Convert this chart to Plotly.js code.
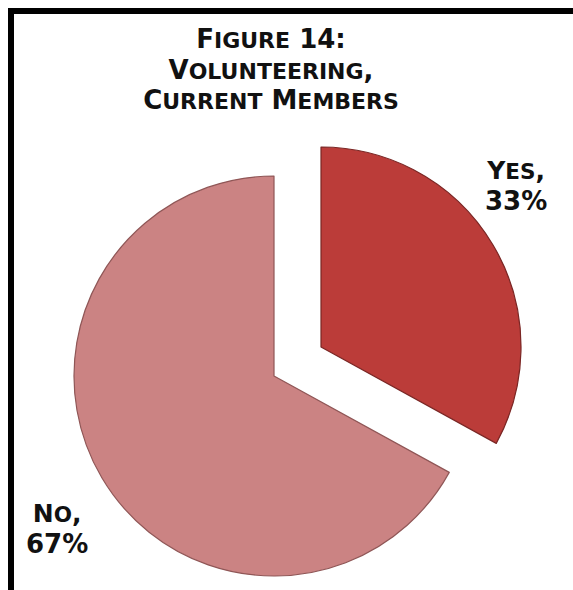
<!DOCTYPE html>
<html>
<head>
<meta charset="utf-8">
<script src="https://cdn.plot.ly/plotly-3.0.1.min.js"></script>
<style>
  html, body { margin: 0; padding: 0; background: #ffffff; overflow: hidden; }
  #chart { width: 573px; height: 590px; }
</style>
</head>
<body>
<div id="chart"></div>
<script>
// ---- data ----
const titleLines = ['Figure 14:', 'Volunteering,', 'Current Members'];
const labels = ['Yes', 'No'];
const values = [33, 67];
const sliceColors = ['#bb3c39', '#cb8383'];
const edgeColors = ['#7a2624', '#8f5656'];

const W = 573, H = 590;
const px = (x) => x / W;
const py = (y) => 1 - y / H;
const clear = 'rgba(0,0,0,0)';

// render text as small caps: capitals/digits at `big` px, lowercase letters as capitals at `small` px
function smallCaps(str, big, small) {
  let out = '', run = '', runSmall = null;
  const flush = () => {
    if (run) out += '<span style="font-size:' + (runSmall ? small : big) + 'px">' + run + '</span>';
    run = '';
  };
  for (const ch of str) {
    const isSmall = ch !== ch.toUpperCase();
    if (runSmall !== null && isSmall !== runSmall) flush();
    runSmall = isSmall;
    run += isSmall ? ch.toUpperCase() : ch;
  }
  flush();
  return out;
}

// pie for the "No" slice (unpulled), centre (274,376), r=200
const pieNo = {
  type: 'pie', labels: labels, values: values, sort: false,
  direction: 'clockwise', rotation: 0,
  textinfo: 'none', hoverinfo: 'label+percent',
  marker: {
    colors: [clear, sliceColors[1]],
    line: { color: [clear, edgeColors[1]], width: 1.2 }
  },
  domain: { x: [px(74), px(474)], y: [py(576), py(176)] },
  showlegend: false
};
// pie for the exploded "Yes" slice, centre (321,347), r=200
const pieYes = {
  type: 'pie', labels: labels, values: values, sort: false,
  direction: 'clockwise', rotation: 0,
  textinfo: 'none', hoverinfo: 'label+percent',
  marker: {
    colors: [sliceColors[0], clear],
    line: { color: [edgeColors[0], clear], width: 1.2 }
  },
  domain: { x: [px(121), px(521)], y: [py(547), py(147)] },
  showlegend: false
};

const FONT = 'DejaVu Sans';
const labelFont = { family: FONT, size: 24, color: '#111111', weight: 'bold' };
const labelPos = [ { x: 516, y: 186 }, { x: 57, y: 529 } ];
const annotations = labels.map((lab, i) => ({
  xref: 'paper', yref: 'paper',
  x: px(labelPos[i].x), y: py(labelPos[i].y),
  xanchor: 'center', yanchor: 'middle', align: 'center',
  showarrow: false,
  text: smallCaps(lab + ',', 25, 21.5) + '<br>' + '<span style="font-size:26px">' + values[i] + '%</span>',
  font: labelFont
}));

const layout = {
  width: W, height: H,
  margin: { l: 0, r: 0, t: 0, b: 0 },
  paper_bgcolor: '#ffffff',
  title: {
    text: titleLines.map(l => smallCaps(l, 26, 22)).join('<br>'),
    x: px(271), xanchor: 'center',
    y: py(48), yanchor: 'top',
    font: { family: FONT, size: 23.5, color: '#111111', weight: 'bold' }
  },
  annotations: annotations,
  shapes: [{
    type: 'path', xref: 'paper', yref: 'paper',
    path: 'M ' + px(11) + ',0 L ' + px(11) + ',' + py(11) + ' L 1,' + py(11),
    line: { color: '#000000', width: 6 }
  }],
  showlegend: false
};

Plotly.newPlot('chart', [pieNo, pieYes], layout, { displayModeBar: false, staticPlot: true });
</script>
</body>
</html>
